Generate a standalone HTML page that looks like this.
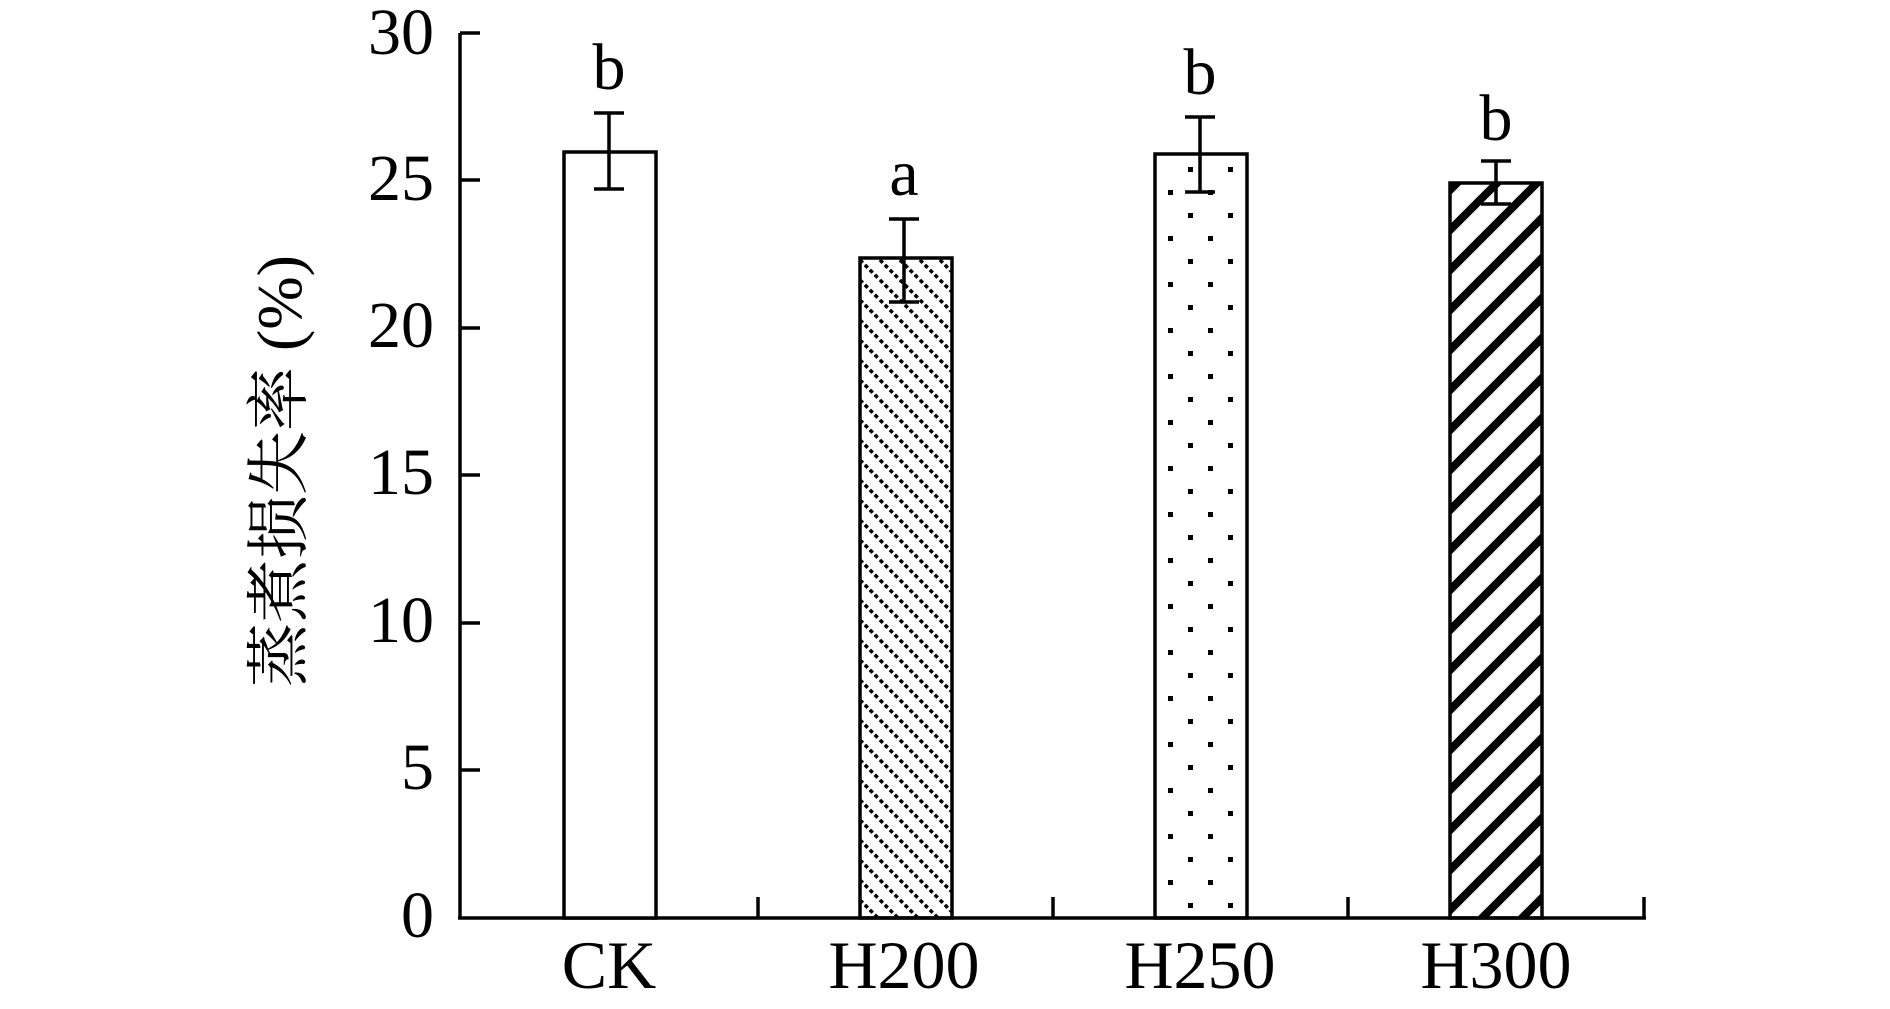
<!DOCTYPE html>
<html><head><meta charset="utf-8"><style>
html,body{margin:0;padding:0;background:#fff;}
svg{display:block;}
text{font-family:"Liberation Serif","Noto Serif CJK SC",serif;fill:#000;}
</style></head><body>
<svg width="1890" height="1009" viewBox="0 0 1890 1009" xmlns="http://www.w3.org/2000/svg">
<defs>
<pattern id="p200" width="20" height="20" patternUnits="userSpaceOnUse">
<path d="M-5,-5 L25,25 M-5,15 L5,25 M15,-5 L25,5" stroke="#000" stroke-width="3.5" stroke-dasharray="4,3"/>
</pattern>
<pattern id="p250" width="40" height="46" patternUnits="userSpaceOnUse">
<rect x="8" y="6" width="5" height="5" fill="#000"/>
<rect x="28" y="29" width="5" height="5" fill="#000"/>
</pattern>
<pattern id="p300" width="40" height="40" patternUnits="userSpaceOnUse">
<path d="M-10,50 L50,-10 M-10,10 L10,-10 M30,50 L50,30" stroke="#000" stroke-width="8"/>
</pattern>
</defs>
<g stroke="#000" stroke-width="3.5" fill="none">
<line x1="460" y1="33" x2="460" y2="919"/>
<line x1="460" y1="33" x2="480" y2="33"/>
<line x1="460" y1="180" x2="480" y2="180"/>
<line x1="460" y1="328" x2="480" y2="328"/>
<line x1="460" y1="475" x2="480" y2="475"/>
<line x1="460" y1="623" x2="480" y2="623"/>
<line x1="460" y1="770" x2="480" y2="770"/>
<line x1="458" y1="918" x2="1646" y2="918"/>
<line x1="758" y1="918" x2="758" y2="897"/>
<line x1="1053" y1="918" x2="1053" y2="897"/>
<line x1="1348" y1="918" x2="1348" y2="897"/>
<line x1="1644" y1="918" x2="1644" y2="897"/>
</g>
<g stroke="#000" stroke-width="3.5">
<rect x="564" y="152" width="92" height="766" fill="#fff"/>
<rect x="860" y="258" width="92" height="660" fill="url(#p200)"/>
<rect x="1155" y="154" width="92" height="764" fill="url(#p250)"/>
<rect x="1450" y="183" width="92" height="735" fill="url(#p300)"/>
</g>
<g stroke="#000" stroke-width="3.5">
<line x1="609" y1="113" x2="609" y2="189"/><line x1="594" y1="113" x2="624" y2="113"/><line x1="594" y1="189" x2="624" y2="189"/>
<line x1="904" y1="219" x2="904" y2="302"/><line x1="889" y1="219" x2="919" y2="219"/><line x1="889" y1="302" x2="919" y2="302"/>
<line x1="1200" y1="117" x2="1200" y2="192"/><line x1="1185" y1="117" x2="1215" y2="117"/><line x1="1185" y1="192" x2="1215" y2="192"/>
<line x1="1496" y1="161" x2="1496" y2="204"/><line x1="1481" y1="161" x2="1511" y2="161"/><line x1="1481" y1="204" x2="1511" y2="204"/>
</g>
<g font-size="66" text-anchor="middle">
<text x="609" y="89">b</text>
<text x="904" y="195">a</text>
<text x="1200" y="94">b</text>
<text x="1496" y="140">b</text>
</g>
<g font-size="66" text-anchor="end">
<text x="434" y="54">30</text>
<text x="434" y="200">25</text>
<text x="434" y="347">20</text>
<text x="434" y="494">15</text>
<text x="434" y="642">10</text>
<text x="434" y="789">5</text>
<text x="434" y="937">0</text>
</g>
<g font-size="68" text-anchor="middle">
<text x="609" y="988">CK</text>
<text x="904" y="988">H200</text>
<text x="1200" y="988">H250</text>
<text x="1496" y="988">H300</text>
</g>
<text transform="translate(301,471) rotate(-90)" font-size="64" text-anchor="middle">蒸煮损失率 (%)</text>
</svg>
</body></html>
